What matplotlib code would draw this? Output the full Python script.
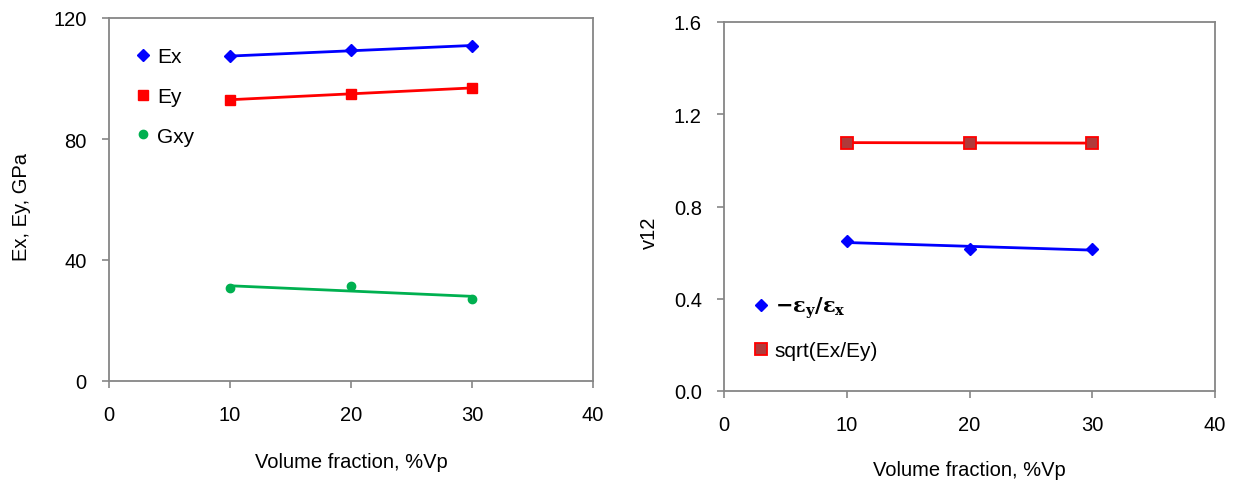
import numpy as np
import matplotlib.pyplot as plt

plt.rcParams['font.family'] = ['Liberation Sans', 'DejaVu Sans']
plt.rcParams['mathtext.fontset'] = 'dejavuserif'

# values
vp = [10, 20, 30]
ex = [107.3, 109.4, 110.8]
ey = [93.0, 94.9, 96.9]
gxy = [30.6, 31.5, 27.1]
strain_ratio = [0.650, 0.615, 0.617]
sqrt_ratio = [1.077, 1.076, 1.075]

x_ticks = [0, 10, 20, 30, 40]
left_yticks = [0, 40, 80, 120]
right_yticks = [0.0, 0.4, 0.8, 1.2, 1.6]

FRAME = '#868686'
W, H = 1240, 485


def trend(ax, x, y, color):
    # Excel-style linear trend line over the data range
    fit = np.polyfit(x, y, 1)
    xs = np.array([min(x), max(x)], dtype=float)
    ax.plot(xs, np.polyval(fit, xs), color=color, lw=2.0, zorder=2)


def style(ax):
    for s in ax.spines.values():
        s.set_color(FRAME)
        s.set_linewidth(1.3)
    ax.tick_params(direction='out', length=5, width=1.2, color=FRAME,
                   labelsize=14.5, top=False, right=False)
    ax.tick_params(axis='x', pad=12)
    ax.tick_params(axis='y', pad=11)
    ax.set_xlim(0, 40)
    ax.set_xticks(x_ticks)
    ax.set_xticklabels([str(v) for v in x_ticks])


fig = plt.figure(figsize=(W / 100, H / 100), dpi=100)

# left panel: moduli
ax1 = fig.add_axes([109 / W, (H - 382) / H, 484 / W, 363 / H])
style(ax1)
ax1.set_ylim(0, 120)
ax1.set_yticks(left_yticks)
ax1.set_yticklabels([str(v) for v in left_yticks])

trend(ax1, vp, ex, 'blue')
trend(ax1, vp, ey, 'red')
trend(ax1, vp, gxy, '#00B050')
ax1.plot(vp, ex, 'D', color='blue', ms=6, label='Ex', zorder=3)
ax1.plot(vp, ey, 's', color='red', ms=6.5, label='Ey', zorder=3)
ax1.plot(vp, gxy, 'o', color='#00B050', ms=6, label='Gxy', zorder=3)

ax1.set_xlabel('Volume fraction, %Vp', fontsize=14.5)
ax1.set_ylabel('Ex, Ey, GPa', fontsize=14.5)
ax1.xaxis.set_label_coords(0.5, (382 - 453) / 363)
ax1.yaxis.set_label_coords((31 - 109) / 484, (382 - 207) / 363)

ax1.legend(loc='upper left', bbox_to_anchor=((137 - 109) / 484, (382 - 48) / 363),
           frameon=False, fontsize=15, numpoints=1, handlelength=0.6,
           handletextpad=0.35, labelspacing=1.0, borderpad=0, borderaxespad=0)

# right panel: Poisson ratio
ax2 = fig.add_axes([724 / W, (H - 392) / H, 491 / W, 369 / H])
style(ax2)
ax2.set_ylim(0, 1.6)
ax2.set_yticks(right_yticks)
ax2.set_yticklabels([f'{v:.1f}' for v in right_yticks])

trend(ax2, vp, strain_ratio, 'blue')
trend(ax2, vp, sqrt_ratio, 'red')
ax2.plot(vp, strain_ratio, 'D', color='blue', ms=6.5,
         label=r'$\mathbf{-\varepsilon_y/\varepsilon_x}$', zorder=3)
ax2.plot(vp, sqrt_ratio, 's', mfc='#B03A3A', mec='red', mew=1.3, ms=8,
         label='sqrt(Ex/Ey)', zorder=3)

ax2.set_xlabel('Volume fraction, %Vp', fontsize=14.5)
ax2.set_ylabel('v12', fontsize=14.5)
ax2.xaxis.set_label_coords(0.5, (392 - 461) / 369)
ax2.yaxis.set_label_coords((659 - 724) / 491, (392 - 233) / 369)

ax2.legend(loc='upper left', bbox_to_anchor=((755 - 724) / 491, (392 - 296) / 369),
           frameon=False, fontsize=15, numpoints=1, handlelength=0.6,
           handletextpad=0.35, labelspacing=1.0, borderpad=0, borderaxespad=0)

fig.savefig('out.png', dpi=100)
